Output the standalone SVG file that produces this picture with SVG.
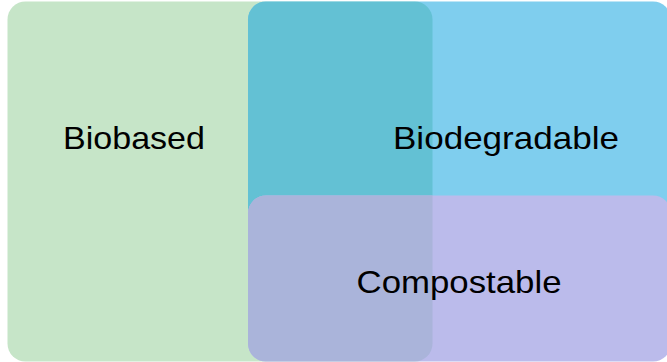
<svg xmlns="http://www.w3.org/2000/svg" width="667" height="362" viewBox="0 0 667 362">
<style>
text{font-family:"Liberation Sans",Arial,sans-serif;font-size:32px;fill:#000;text-anchor:middle}
</style>
<defs>
<rect id="gShape" x="7.5" y="1.5" width="425" height="360" rx="18"/>
<rect id="bShape" x="248" y="1.5" width="423" height="280" rx="18"/>
<rect id="pShape" x="248" y="195.5" width="423" height="166" rx="18"/>
<clipPath id="clipG"><use href="#gShape"/></clipPath>
</defs>
<rect width="667" height="362" fill="#ffffff"/>
<g id="biobased">
<use href="#gShape" fill="#C6E5C8"/>
</g>
<g id="biodegradable">
<use href="#bShape" fill="#7FCEEE"/>
<use href="#bShape" fill="#63C1D4" clip-path="url(#clipG)"/>
</g>
<g id="compostable">
<use href="#pShape" fill="#BBBBEB"/>
<use href="#pShape" fill="#AAB4DA" clip-path="url(#clipG)"/>
</g>
<g id="labels">
<text x="134" y="149" textLength="142" lengthAdjust="spacingAndGlyphs">Biobased</text>
<text x="506" y="149" textLength="226" lengthAdjust="spacingAndGlyphs">Biodegradable</text>
<text x="459" y="293" textLength="205" lengthAdjust="spacingAndGlyphs">Compostable</text>
</g>
<g id="connectors"/>
</svg>
